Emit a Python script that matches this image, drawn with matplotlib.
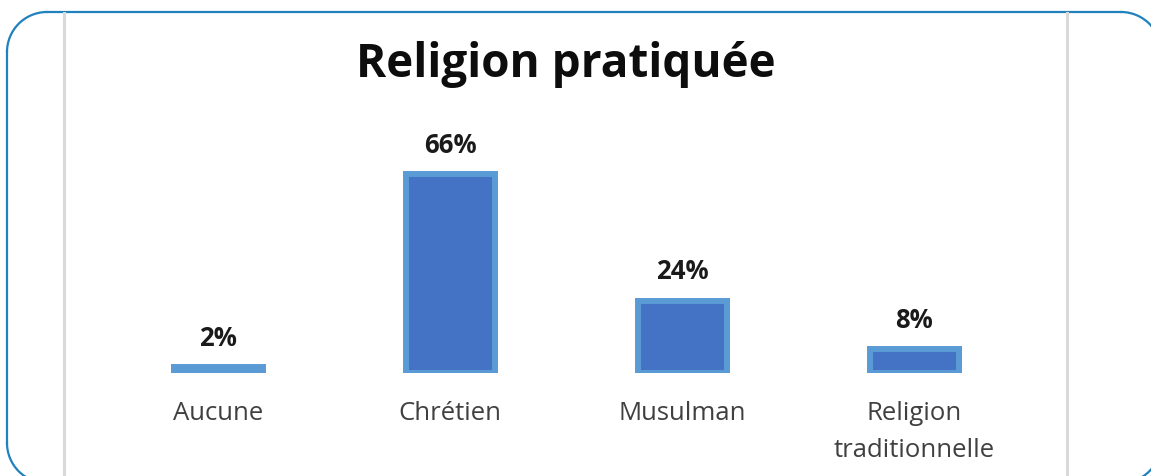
import matplotlib
matplotlib.use('Agg')
import matplotlib.pyplot as plt
from matplotlib.patches import Arc

categories = ['Aucune', 'Chrétien', 'Musulman', 'Religion\ntraditionnelle']
shares = [2, 66, 24, 8]
title = 'Religion pratiquée'

W, H = 1151, 477
fig = plt.figure(figsize=(W / 100, H / 100), dpi=100)

# decoration layer in pixel coordinates (y up)
deco = fig.add_axes([0, 0, 1, 1])
deco.set_xlim(0, W)
deco.set_ylim(0, H)
deco.axis('off')

# rounded frame, partly cut by the figure edges
r = 40
bl, bt, br, bb = 7, H - 13, 1161, H - 484   # left, top, right, bottom (y up)
frame = dict(color='#1F82BE', linewidth=1.6, clip_on=False)
deco.plot([bl + r, br - r], [bt, bt], **frame)
deco.plot([bl + r, br - r], [bb, bb], **frame)
deco.plot([bl, bl], [bb + r, bt - r], **frame)
deco.plot([br, br], [bb + r, bt - r], **frame)
for cx, cy, a0 in [(bl + r, bt - r, 90), (br - r, bt - r, 0),
                   (bl + r, bb + r, 180), (br - r, bb + r, 270)]:
    deco.add_patch(Arc((cx, cy), 2 * r, 2 * r, theta1=a0, theta2=a0 + 90,
                       edgecolor='#1F82BE', linewidth=1.6, clip_on=False))

for xg in (64, 1067):
    deco.plot([xg, xg], [H - 13.5, 0], color='#D9D9D9', linewidth=2.2)

# chart axes: data x=0..3 at pixel 218..914, baseline at pixel 374
px_per_unit = 232.0
left_px, right_px = 64, 1067
x0 = -(218 - left_px) / px_per_unit
x1 = x0 + (right_px - left_px) / px_per_unit
base_px = 374
top_px = 100
px_per_pct = 3.015
ax = fig.add_axes([left_px / W, (H - base_px) / H,
                   (right_px - left_px) / W, (base_px - top_px) / H])
ax.set_xlim(x0, x1)
ax.set_ylim(0, (base_px - top_px) / px_per_pct)
ax.axis('off')

xs = range(len(categories))
ax.bar(xs, shares, width=89 / px_per_unit, color='#4472C4',
       edgecolor='#5B9BD5', linewidth=4.3)

for x, v in zip(xs, shares):
    ax.annotate(f'{v}%', (x, v), xytext=(0, 21.5), textcoords='offset points',
                ha='center', va='center', fontsize=18.5, fontweight='bold',
                family='Open Sans', color='#1a1a1a')
    ax.annotate(categories[x], (x, 0), xytext=(0, -19.5), textcoords='offset points',
                ha='center', va='top', fontsize=18.5, family='Open Sans',
                color='#404040', linespacing=1.62, annotation_clip=False)

fig.text(566 / W, 1 - 77 / H, title, ha='center', va='baseline', fontsize=33,
         fontweight='bold', family='Open Sans', color='#0d0d0d')

fig.savefig('out.png', dpi=100)
